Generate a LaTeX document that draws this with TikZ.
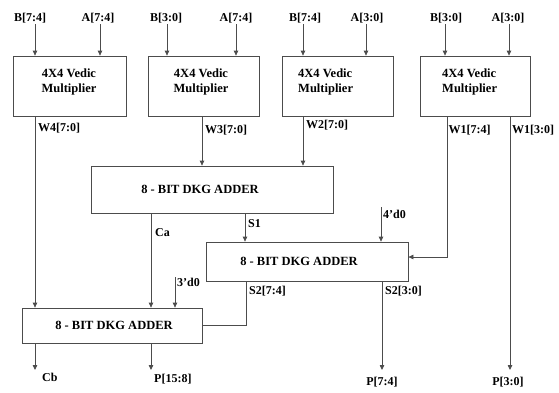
\documentclass[tikz,border=0pt]{standalone}
\usepackage{fontspec}
\setmainfont{Liberation Serif}
\usetikzlibrary{arrows.meta}
\begin{document}
\begin{tikzpicture}[x=1pt,y=-1pt,
  wire/.style={draw=black!70, line width=0.75pt},
  arr/.style={wire,-{Triangle[length=5pt,width=4.5pt]}},
  box/.style={draw=black!70, line width=0.75pt, inner sep=0pt},
  btext/.style={inner sep=0pt, align=left, font=\bfseries\fontsize{12.5}{15}\selectfont},
  lbl/.style={font=\bfseries\fontsize{12}{14}\selectfont, inner sep=0pt}]
\useasboundingbox (0,0) rectangle (559,392);
% multipliers
\node[box, minimum width=113pt, minimum height=60pt] (M1) at (69.5,86) {};
\node[box, minimum width=111pt, minimum height=60pt] (M2) at (203.5,86) {};
\node[box, minimum width=111pt, minimum height=60pt] (M3) at (337.5,86) {};
\node[box, minimum width=110pt, minimum height=60pt] (M4) at (475,86) {};
\node[btext, align=center] (M1t) at (69,82) {4X4 Vedic\\Multiplier};
\node[btext, align=center] (M2t) at (201,82) {4X4 Vedic\\Multiplier};
\node[btext, anchor=west] (M3t) at (298,82) {4X4 Vedic\\Multiplier};
\node[btext, anchor=west] (M4t) at (442,82) {4X4 Vedic\\Multiplier};
% adders
\node[box, minimum width=242pt, minimum height=47pt] (A1) at (212,189.5) {};
\node[box, minimum width=202pt, minimum height=39pt] (A2) at (307,261.5) {};
\node[box, minimum width=180pt, minimum height=35pt] (A3) at (112,325.5) {};
\node[btext] (A1t) at (200,189) {8 - BIT DKG ADDER};
\node[btext] (A2t) at (299,261) {8 - BIT DKG ADDER};
\node[btext] (A3t) at (114,325.5) {8 - BIT DKG ADDER};
% input labels
\node[lbl, anchor=south] (b1) at (30,23) {B[7:4]};
\node[lbl, anchor=south] (a1) at (98,23) {A[7:4]};
\node[lbl, anchor=south] (b2) at (166,23) {B[3:0]};
\node[lbl, anchor=south] (a2) at (236,23) {A[7:4]};
\node[lbl, anchor=south] (b3) at (305,23) {B[7:4]};
\node[lbl, anchor=south] (a3) at (367,23) {A[3:0]};
\node[lbl, anchor=south] (b4) at (446,23) {B[3:0]};
\node[lbl, anchor=south] (a4) at (508,23) {A[3:0]};
\coordinate (ib1) at (35,24); \coordinate (ia1) at (100,24);
\coordinate (ib2) at (167,24); \coordinate (ia2) at (236,24);
\coordinate (ib3) at (303,24); \coordinate (ia3) at (366,24);
\coordinate (ib4) at (445,24); \coordinate (ia4) at (509,24);
\foreach \c/\m in {ib1/M1,ia1/M1,ib2/M2,ia2/M2,ib3/M3,ia3/M3,ib4/M4,ia4/M4}
  \draw[arr] (\c) -- (\c |- \m.north);
% multiplier outputs
\coordinate (w4) at (35,116);
\draw[arr] (w4) -- (w4 |- A3.north);
\node[lbl, anchor=west] (lw4) at (38,128) {W4[7:0]};
\coordinate (w3) at (202,116);
\draw[arr] (w3) -- (w3 |- A1.north);
\node[lbl, anchor=west] (lw3) at (205,130) {W3[7:0]};
\coordinate (w2) at (303,116);
\draw[arr] (w2) -- (w2 |- A1.north);
\node[lbl, anchor=west] (lw2) at (306,125) {W2[7:0]};
\coordinate (w1h) at (447,116);
\coordinate (w1hb) at (447,257);
\draw[arr] (w1h) -- (w1hb) -- (w1hb -| A2.east);
\node[lbl, anchor=west] (lw1h) at (448.5,130) {W1[7:4]};
\coordinate (w1l) at (510,116);
\coordinate (p30) at (510,370);
\draw[arr] (w1l) -- (p30);
\node[lbl, anchor=west] (lw1l) at (512,130) {W1[3:0]};
\node[lbl] (lp30) at (508,382) {P[3:0]};
% adder 1 outputs
\coordinate (ca) at (151,213);
\draw[arr] (ca) -- (ca |- A3.north);
\node[lbl, anchor=west] (lca) at (155,233) {Ca};
\coordinate (s1) at (245,213);
\draw[arr] (s1) -- (s1 |- A2.north);
\node[lbl, anchor=west] (ls1) at (248,224) {S1};
% constants
\coordinate (k4) at (381,207);
\draw[arr] (k4) -- (k4 |- A2.north);
\node[lbl, anchor=west] (lk4) at (383,214) {4\char"27 d0};
\coordinate (k3) at (175,277);
\draw[arr] (k3) -- (k3 |- A3.north);
\node[lbl, anchor=west] (lk3) at (177,282) {3\char"27 d0};
% adder 2 outputs
\coordinate (s2h) at (246,281);
\coordinate (s2hb) at (246,325);
\draw[wire] (s2h) -- (s2hb) -- (s2hb -| A3.east);
\node[lbl, anchor=west] (ls2h) at (249,291) {S2[7:4]};
\coordinate (s2l) at (382,281);
\coordinate (p74) at (382,370);
\draw[arr] (s2l) -- (p74);
\node[lbl, anchor=west] (ls2l) at (385,291) {S2[3:0]};
\node[lbl] (lp74) at (382,382) {P[7:4]};
% adder 3 outputs
\coordinate (cb) at (35,343);
\coordinate (cbe) at (35,370);
\draw[arr] (cb) -- (cbe);
\node[lbl, anchor=west] (lcb) at (42,377) {Cb};
\coordinate (p158) at (151,343);
\coordinate (p158e) at (151,370);
\draw[arr] (p158) -- (p158e);
\node[lbl, anchor=west] (lp158) at (154,379) {P[15:8]};
\end{tikzpicture}
\end{document}
